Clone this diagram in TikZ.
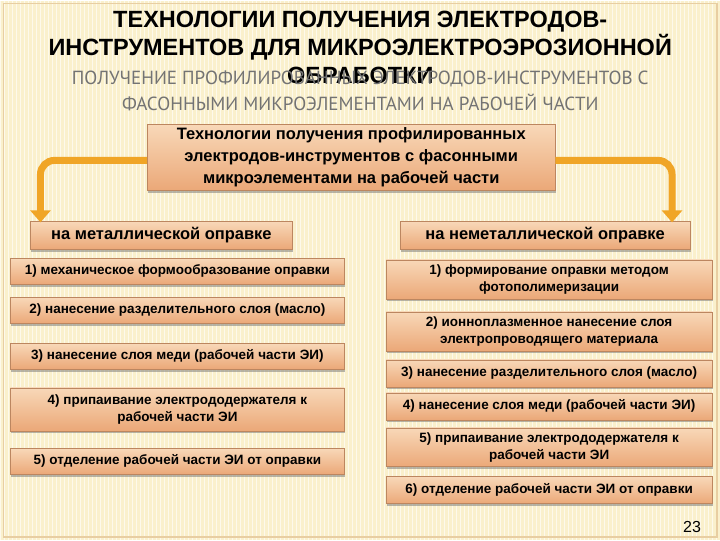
\documentclass[tikz,border=0pt]{standalone}
\usepackage{fontspec}
\setmainfont{Liberation Sans}
\newfontfamily\subfont{PT Sans}
\usetikzlibrary{shadows,arrows.meta}
\definecolor{bg}{HTML}{FAF0CC}
\definecolor{boxtop}{HTML}{F8D8B8}
\definecolor{boxbot}{HTML}{EBA878}
\definecolor{arr}{HTML}{F0A526}
\tikzset{
  item/.style={draw=boxbot!80!black, line width=0.4pt, top color=boxtop, bottom color=boxbot,
    drop shadow={shadow xshift=1pt,shadow yshift=-2.5pt,fill=black!55},
    font=\bfseries\fontsize{13.5}{17}\selectfont, align=center, inner sep=1pt},
  head/.style={item, font=\bfseries\fontsize{16.5}{20}\selectfont},
  conn/.style={arr, line width=7pt, rounded corners=14pt, -{Triangle[length=12pt,width=20pt]}}
}
\begin{document}
\begin{tikzpicture}[x=1pt,y=-1pt]
\fill[bg] (0,0) rectangle (720,540);
\foreach \i in {0,4,...,716} \draw[white!60!bg, line width=1pt] (\i,0) -- (\i,540);
\draw[bg!70!brown, line width=1.5pt] (3,3) rectangle (717,537);
\node[font=\bfseries\fontsize{23.5}{28}\selectfont, align=center] (title) at (360,47)
  {ТЕХНОЛОГИИ ПОЛУЧЕНИЯ ЭЛЕКТРОДОВ-\\ИНСТРУМЕНТОВ ДЛЯ МИКРОЭЛЕКТРОЭРОЗИОННОЙ\\ОБРАБОТКИ};
\node[font=\subfont\fontsize{19}{26}\selectfont, text=black!55, align=center] (sub) at (360,90)
  {ПОЛУЧЕНИЕ ПРОФИЛИРОВАННЫХ ЭЛЕКТРОДОВ-ИНСТРУМЕНТОВ С\\ФАСОННЫМИ МИКРОЭЛЕМЕНТАМИ НА РАБОЧЕЙ ЧАСТИ};
\node[item, font=\bfseries\fontsize{16.5}{22}\selectfont, minimum width=408pt, minimum height=66pt] (top) at (351,157)
  {Технологии получения профилированных\\электродов-инструментов с фасонными\\микроэлементами на рабочей части};
\node[head, minimum width=262pt, minimum height=28pt] (lh) at (161,235) {на металлической оправке};
\node[head, minimum width=290pt, minimum height=28pt] (rh) at (545,235) {на неметаллической оправке};
\coordinate (lc) at (40,160); \coordinate (rc) at (672,160);
\draw[conn] (top.west |- lc) -- (lc) -- (40,222);
\draw[conn] (top.east |- rc) -- (rc) -- (672,222);
\begin{scope}[every node/.style={item, minimum width=334pt}]
\node[minimum height=26pt] (l1) at (177,271) {1) механическое формообразование оправки};
\node[minimum height=26pt] (l2) at (177,310) {2) нанесение разделительного слоя (масло)};
\node[minimum height=26pt] (l3) at (177,356) {3) нанесение слоя меди (рабочей части ЭИ)};
\node[minimum height=43pt] (l4) at (177,409) {4) припаивание электрододержателя к\\рабочей части ЭИ};
\node[minimum height=26pt] (l5) at (177,461) {5) отделение рабочей части ЭИ от оправки};
\end{scope}
\begin{scope}[every node/.style={item, minimum width=326pt}]
\node[minimum height=39pt] (r1) at (549,279) {1) формирование оправки методом\\фотополимеризации};
\node[minimum height=39pt] (r2) at (549,331) {2) ионноплазменное нанесение слоя\\электропроводящего материала};
\node[minimum height=27pt] (r3) at (549,373) {3) нанесение разделительного слоя (масло)};
\node[minimum height=27pt] (r4) at (549,406) {4) нанесение слоя меди (рабочей части ЭИ)};
\node[minimum height=39pt] (r5) at (549,447) {5) припаивание электрододержателя к\\рабочей части ЭИ};
\node[minimum height=27pt] (r6) at (549,490) {6) отделение рабочей части ЭИ от оправки};
\end{scope}
\node[font=\fontsize{16}{18}\selectfont] (pg) at (692,527) {23};
\end{tikzpicture}
\end{document}
